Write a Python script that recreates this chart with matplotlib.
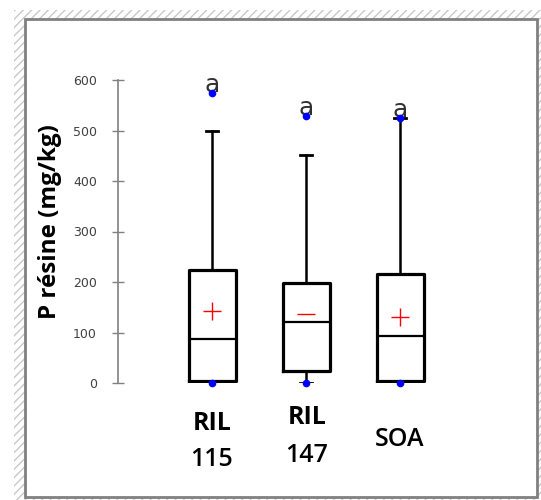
import matplotlib
matplotlib.use("Agg")
import matplotlib.pyplot as plt
from matplotlib.patches import Rectangle

categories = ["RIL\n115", "RIL\n147", "SOA"]
q1 = [3, 24, 3]
medians = [88, 121, 93]
q3 = [224, 199, 216]
whis_lo = [0, 0, 0]
whis_hi = [499, 451, 525]
means = [143, 136, 131]
maxima = [575, 529, 525]
minima = [0, 0, 0]
letters = ["a", "a", "a"]
yticks = [0, 100, 200, 300, 400, 500, 600]

W, H = 541, 500
fig = plt.figure(figsize=(W / 100, H / 100), dpi=100)

def fx(x):
    return x / W

def fy(y):
    return (H - y) / H

# frame
fig.add_artist(Rectangle((fx(14), fy(500)), fx(541) - fx(14), fy(10) - fy(500),
                         transform=fig.transFigure, facecolor="white",
                         edgecolor="#c8c8c8", hatch="////", linewidth=0, zorder=-10))
fig.add_artist(Rectangle((fx(25), fy(497)), fx(537) - fx(25), fy(19) - fy(497),
                         transform=fig.transFigure, facecolor="white",
                         edgecolor="#808080", linewidth=2, zorder=-9))

ax = fig.add_axes([fx(118), fy(383), fx(494) - fx(118), fy(80) - fy(383)])
ax.set_facecolor("none")
ax.set_zorder(5)

stats = []
for i in range(len(categories)):
    stats.append(dict(med=medians[i], q1=q1[i], q3=q3[i], whislo=whis_lo[i],
                      whishi=whis_hi[i], fliers=[], label=categories[i]))
pos = [1, 2, 3]
ax.bxp(stats, positions=pos, widths=0.5, showfliers=False, showcaps=True,
       boxprops=dict(color="black", linewidth=2.3),
       medianprops=dict(color="black", linewidth=1.6),
       whiskerprops=dict(color="black", linewidth=1.8),
       capprops=dict(color="black", linewidth=2.0),
       capwidths=0.12)

# means
mean_markers = ["+", "_", "+"]
for p, m, mk in zip(pos, means, mean_markers):
    ax.plot([p], [m], marker=mk, color="red", markersize=13, mew=1.0, zorder=5)

# min / max points
ax.plot(pos, maxima, "o", color="blue", markersize=4.5, zorder=6, clip_on=False)
ax.plot(pos, minima, "o", color="blue", markersize=4.5, zorder=6, clip_on=False)

for p, mx, lt in zip(pos, maxima, letters):
    ax.text(p, mx + 2, lt, ha="center", va="baseline", fontsize=18,
            color="#303030", family="Liberation Sans Narrow")

ax.set_xlim(0, 4)
ax.set_ylim(0, 600)
ax.set_yticks(yticks)
ax.set_yticklabels([str(t) for t in yticks], fontsize=9, color="#404040",
                   family="Liberation Sans Narrow")
ax.tick_params(axis="y", direction="inout", length=8.6, width=1, color="#808080", pad=11)
ax.set_xticks([])
for s in ["top", "right", "bottom"]:
    ax.spines[s].set_visible(False)
ax.spines["left"].set_color("#808080")
ax.spines["left"].set_linewidth(1.2)

fig.text(fx(50), fy(222), "P résine (mg/kg)", rotation=90, ha="center", va="center",
         fontsize=17.5, fontweight="bold", family="Open Sans")

# category labels
lab_kw = dict(ha="center", va="center", fontsize=18, family="Open Sans")
fig.text(fx(212), fy(423), "RIL", fontweight="bold", **lab_kw)
fig.text(fx(212), fy(460), "115", fontweight="semibold", **lab_kw)
fig.text(fx(307), fy(418), "RIL", fontweight="bold", **lab_kw)
fig.text(fx(307), fy(455), "147", fontweight="semibold", **lab_kw)
fig.text(fx(400), fy(440), "SOA", fontweight="semibold", **lab_kw)

fig.savefig("out.png", dpi=100)
